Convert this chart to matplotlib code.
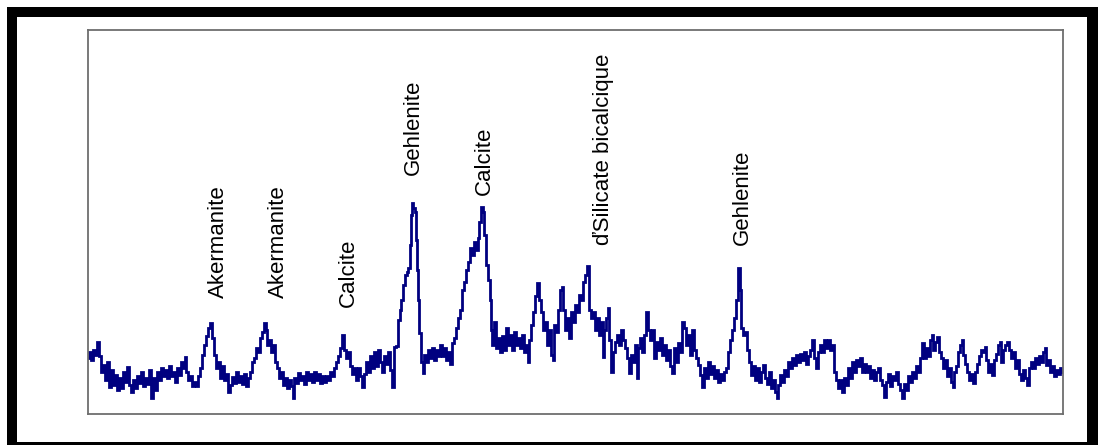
import matplotlib
matplotlib.use("Agg")
import matplotlib.pyplot as plt
from matplotlib import font_manager
from matplotlib.patches import Rectangle

# ---- data (detector channel vs. counts) ----
channel = [
 88, 90, 92, 94, 96, 98, 100, 102, 104, 106, 108, 110, 112, 114, 116, 118, 120, 122, 124, 126,
 128, 130, 132, 134, 136, 138, 140, 142, 144, 146, 148, 150, 152, 154, 156, 158, 160, 162, 164, 166,
 168, 170, 172, 174, 176, 178, 180, 182, 184, 185, 187, 189, 191, 193, 195, 197, 199, 201, 203, 205,
 207, 209, 211, 213, 215, 217, 219, 221, 223, 225, 227, 229, 231, 233, 235, 237, 239, 241, 243, 245,
 247, 249, 251, 253, 255, 257, 259, 261, 263, 265, 266, 268, 270, 272, 274, 276, 278, 280, 282, 284,
 286, 288, 290, 292, 293, 295, 297, 299, 301, 303, 305, 307, 309, 311, 313, 315, 317, 319, 321, 323,
 325, 327, 329, 331, 333, 335, 337, 339, 341, 343, 345, 347, 349, 351, 353, 355, 357, 359, 361, 363,
 365, 367, 369, 371, 373, 375, 377, 379, 381, 383, 385, 387, 389, 391, 393, 395, 397, 399, 400, 402,
 404, 406, 407, 409, 410, 411, 412, 414, 415, 416, 417, 418, 420, 422, 423, 425, 427, 429, 431, 433,
 435, 437, 439, 441, 443, 445, 447, 449, 451, 453, 455, 457, 459, 461, 463, 465, 467, 469, 471, 473,
 475, 477, 478, 480, 482, 483, 485, 487, 489, 490, 491, 493, 495, 497, 499, 501, 503, 505, 507, 509,
 511, 513, 515, 517, 519, 521, 523, 525, 527, 528, 530, 532, 534, 536, 538, 540, 542, 544, 546, 548,
 550, 552, 553, 555, 557, 559, 561, 562, 564, 566, 568, 570, 572, 574, 576, 578, 580, 582, 584, 586,
 588, 590, 592, 594, 596, 598, 600, 602, 603, 605, 607, 608, 610, 612, 614, 616, 618, 620, 622, 624,
 626, 628, 630, 632, 634, 636, 637, 639, 641, 643, 645, 647, 649, 651, 653, 655, 657, 659, 661, 663,
 665, 667, 669, 671, 673, 675, 677, 679, 681, 683, 685, 687, 689, 691, 693, 695, 697, 699, 701, 703,
 705, 707, 709, 711, 713, 715, 717, 719, 721, 723, 725, 727, 729, 731, 733, 735, 737, 739, 740, 742,
 744, 746, 748, 750, 752, 754, 756, 758, 760, 762, 764, 766, 768, 770, 772, 774, 776, 777, 779, 781,
 783, 785, 787, 789, 791, 793, 795, 797, 799, 801, 803, 805, 807, 809, 811, 813, 815, 817, 819, 821,
 823, 825, 827, 829, 831, 833, 835, 837, 839, 841, 843, 845, 847, 849, 851, 853, 855, 857, 859, 861,
 863, 865, 867, 869, 871, 873, 875, 877, 879, 881, 883, 885, 887, 889, 891, 893, 895, 897, 899, 901,
 903, 905, 907, 909, 911, 913, 915, 917, 919, 921, 923, 925, 927, 929, 931, 932, 934, 936, 938, 940,
 942, 944, 946, 948, 950, 952, 953, 955, 957, 959, 961, 962, 964, 966, 968, 970, 972, 974, 976, 978,
 980, 982, 984, 985, 987, 989, 991, 993, 995, 997, 999, 1000, 1002, 1004, 1006, 1008, 1010, 1012, 1014, 1016,
 1018, 1020, 1022, 1024, 1026, 1028, 1030, 1032, 1034, 1036, 1038, 1040, 1042, 1044, 1045, 1047, 1049, 1051, 1053, 1055,
 1057, 1059, 1061, 1063,
]
counts = [
 56, 62, 54, 64, 59, 72, 58, 42, 49, 34, 52, 27, 44, 29, 39, 24, 36, 26, 42, 32,
 47, 29, 22, 34, 26, 38, 31, 42, 28, 36, 30, 44, 16, 36, 24, 42, 34, 46, 38, 44,
 36, 48, 38, 42, 32, 46, 39, 52, 46, 57, 42, 34, 38, 28, 32, 28, 38, 46, 59, 69,
 78, 86, 91, 76, 59, 46, 52, 36, 48, 34, 40, 22, 29, 37, 31, 42, 32, 38, 30, 40,
 28, 36, 42, 52, 56, 66, 62, 76, 82, 91, 84, 69, 74, 62, 69, 52, 46, 36, 42, 29,
 36, 26, 34, 28, 16, 36, 31, 41, 34, 38, 30, 42, 34, 40, 32, 42, 34, 40, 31, 38,
 32, 38, 34, 42, 38, 46, 52, 58, 66, 79, 64, 56, 62, 48, 40, 46, 34, 46, 38, 27,
 40, 52, 42, 58, 46, 62, 48, 64, 52, 42, 58, 50, 62, 44, 27, 67, 68, 94, 104, 114,
 129, 139, 142, 146, 169, 199, 211, 206, 202, 174, 144, 114, 81, 52, 41, 59, 52, 64, 56, 66,
 54, 64, 58, 69, 58, 66, 54, 62, 50, 71, 76, 86, 96, 104, 124, 132, 144, 152, 166, 159,
 172, 164, 176, 192, 207, 202, 179, 149, 134, 114, 84, 69, 92, 66, 76, 62, 78, 64, 86, 69,
 79, 64, 82, 69, 76, 66, 79, 62, 69, 52, 74, 89, 102, 118, 131, 114, 102, 84, 92, 69,
 84, 59, 54, 89, 82, 104, 124, 127, 104, 84, 96, 76, 102, 92, 109, 102, 119, 114, 132, 139,
 148, 104, 96, 102, 84, 96, 79, 92, 57, 84, 96, 106, 74, 42, 62, 72, 79, 69, 84, 74,
 66, 56, 41, 59, 52, 69, 36, 66, 76, 62, 79, 102, 84, 74, 84, 56, 72, 64, 76, 59,
 69, 54, 64, 48, 41, 66, 52, 71, 62, 92, 86, 69, 79, 59, 84, 64, 56, 49, 39, 27,
 46, 36, 52, 40, 48, 36, 44, 32, 40, 34, 42, 46, 62, 74, 84, 96, 114, 146, 124, 86,
 79, 82, 64, 52, 39, 48, 34, 46, 32, 42, 49, 36, 30, 42, 26, 34, 22, 16, 29, 39,
 32, 44, 38, 52, 46, 56, 49, 59, 52, 60, 54, 62, 50, 58, 64, 74, 56, 46, 62, 69,
 62, 74, 66, 74, 64, 69, 42, 34, 26, 34, 22, 36, 29, 46, 36, 52, 42, 54, 48, 56,
 42, 50, 42, 48, 36, 44, 34, 42, 46, 34, 29, 17, 32, 40, 28, 38, 34, 42, 30, 24,
 16, 30, 24, 38, 32, 42, 36, 48, 42, 56, 71, 56, 66, 58, 74, 79, 64, 72, 77, 62,
 56, 46, 54, 38, 46, 32, 27, 42, 48, 62, 69, 74, 59, 50, 42, 34, 40, 31, 42, 50,
 58, 64, 62, 67, 54, 42, 50, 39, 54, 60, 69, 72, 52, 64, 69, 72, 64, 56, 62, 46,
 54, 40, 34, 44, 36, 29, 46, 52, 46, 56, 50, 58, 52, 62, 66, 49, 54, 42, 48, 38,
 44, 40, 46, 42,
]

# ---- peak labels ----
peak_names = ["Akermanite", "Akermanite", "Calcite", "Gehlenite", "Calcite",
              "ďSilicate bicalcique", "Gehlenite"]
peak_channel = [218, 278, 348, 413, 484, 603, 742]
label_base = [116, 116, 107, 239, 219, 169, 169]

# ---- fonts ----
def pick_font():
    for fam in ["Liberation Sans Narrow", "Liberation Sans", "DejaVu Sans"]:
        try:
            font_manager.findfont(font_manager.FontProperties(family=fam),
                                  fallback_to_default=False)
            return fam
        except Exception:
            continue
    return "DejaVu Sans"

fam = pick_font()
fsize = 19 if "Narrow" in fam else 16

W, H = 1098, 445
fig = plt.figure(figsize=(W / 100, H / 100), dpi=100)
fig.patch.set_facecolor("white")

# outer black frame (figure pixel geometry)
def frect(x0, y0, x1, y1):
    fig.patches.append(Rectangle((x0 / W, 1 - y1 / H), (x1 - x0) / W, (y1 - y0) / H,
                                 transform=fig.transFigure, facecolor="black",
                                 edgecolor="none", zorder=0))

frect(7, 7, 1098, 17)      # top
frect(7, 7, 17, 445)       # left
frect(1087, 7, 1098, 445)  # right
frect(7, 442, 1098, 445)   # bottom

ax = fig.add_axes([88 / W, 1 - 414 / H, (1063 - 88) / W, (414 - 30) / H])
ax.set_facecolor("white")
ax.plot(channel, counts, color="#000080", lw=2.0, drawstyle="steps-mid",
        solid_joinstyle="miter")
ax.set_xlim(min(channel), max(channel))
ax.set_ylim(0, 384)
ax.set_xticks([])
ax.set_yticks([])
for s in ax.spines.values():
    s.set_color("#6e6e6e")
    s.set_linewidth(1.3)

for name, xc, yb in zip(peak_names, peak_channel, label_base):
    ax.text(xc, yb, name, rotation=90, ha="center", va="bottom",
            fontsize=fsize, family=[fam, "DejaVu Sans"], color="black")

fig.savefig("out.png", dpi=100, facecolor="white")
